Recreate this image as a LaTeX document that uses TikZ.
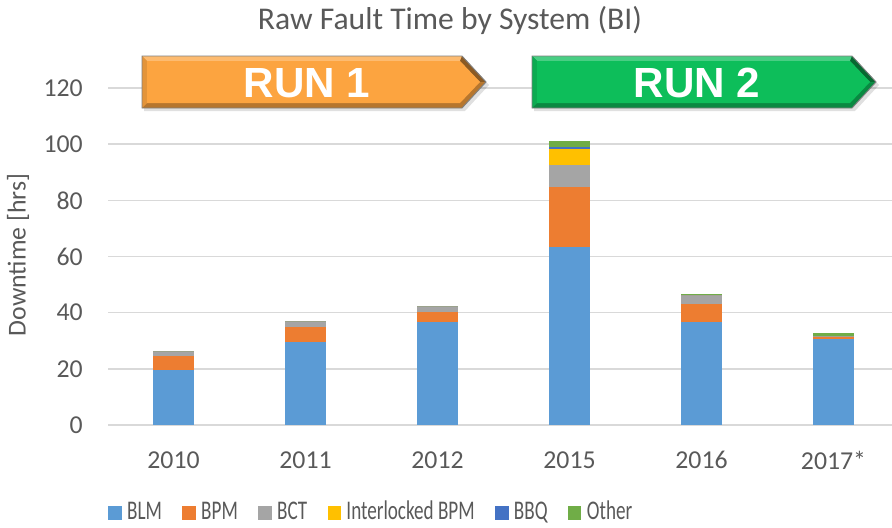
\documentclass[tikz,border=0pt]{standalone}
\usepackage{fontspec}
\setmainfont{Carlito}
\newfontfamily\runfont{Liberation Sans}
\usetikzlibrary{positioning}

\definecolor{axisgray}{HTML}{595959}
\definecolor{gridgray}{HTML}{D9D9D9}
\definecolor{blm}{HTML}{5B9BD5}
\definecolor{bpm}{HTML}{ED7D31}
\definecolor{bct}{HTML}{A5A5A5}
\definecolor{ilk}{HTML}{FFC000}
\definecolor{bbq}{HTML}{4472C4}
\definecolor{oth}{HTML}{70AD47}
\definecolor{runA}{HTML}{FCA440}
\definecolor{runB}{HTML}{0DBE5A}

\newcommand{\legname}[1]{\scalebox{0.71}[1]{#1}}

\begin{document}
\begin{tikzpicture}[x=0.03cm, y=-0.03cm,
    lbl/.style={text=axisgray, font=\fontsize{22}{26}\selectfont, inner sep=0pt},
    gridline/.style={draw=gridgray, line width=1.3pt},
    legsq/.style={fill=#1, minimum size=0.4cm, inner sep=0pt},
    legtxt/.style={lbl, font=\fontsize{23}{26}\selectfont, text height=14.5pt, text depth=0pt},
    runtxt/.style={text=white, font=\runfont\bfseries\fontsize{36}{40}\selectfont, inner sep=0pt}]
  \useasboundingbox (0,0) rectangle (892,527);

  % title and axis label
  \node[lbl, font=\fontsize{27}{30}\selectfont] (title) at (450,20) {Raw Fault Time by System (BI)};
  \node[lbl, rotate=90] (ylab) at (18,255) {Downtime [hrs]};

  % grid, ticks and bars in data units
  \begin{scope}[shift={(0,425)}, y=0.08424cm]
    \foreach \v in {0,20,...,120} {
      \draw[gridline] (108,\v) -- (892,\v);
      \node[lbl, anchor=east] (tick\v) at (83,\v) {\v};
    }
    \foreach \cx/\a/\b/\c/\d/\e/\f in {173.5/19.6/24.7/26.5/26.5/26.5/26.5,
        305.5/29.5/35.0/36.9/36.9/36.9/36.9,
        437.5/36.6/40.4/42.4/42.4/42.4/42.4,
        569.5/63.3/84.6/92.7/98.3/99.0/101.0,
        701.5/36.7/43.2/46.3/46.3/46.3/46.6,
        833.5/30.5/31.4/31.7/31.7/31.7/32.8} {
      \fill[blm] (\cx-20.5,0) rectangle (\cx+20.5,\a);
      \fill[bpm] (\cx-20.5,\a) rectangle (\cx+20.5,\b);
      \fill[bct] (\cx-20.5,\b) rectangle (\cx+20.5,\c);
      \fill[ilk] (\cx-20.5,\c) rectangle (\cx+20.5,\d);
      \fill[bbq] (\cx-20.5,\d) rectangle (\cx+20.5,\e);
      \fill[oth] (\cx-20.5,\e) rectangle (\cx+20.5,\f);
    }
  \end{scope}

  % years
  \foreach \cx/\yr [count=\i] in {173.5/2010, 305.5/2011, 437.5/2012,
      569.5/2015, 701.5/2016, 833.5/2017*}
    \node[lbl] (yr\i) at (\cx,460) {\yr};

  % run arrows
  \foreach \L/\col/\txt [count=\i] in {142/runA/RUN 1, 532/runB/RUN 2} {
    \fill[black, opacity=0.12] (\L+2,59) -- (\L+323,59) -- (\L+347,85) -- (\L+323,111) -- (\L+2,111) -- cycle;
    \fill[\col!72!black] (\L,56) -- (\L+320,56) -- (\L+344,82) -- (\L+320,108) -- (\L,108) -- cycle;
    \fill[\col!75!white] (\L,56) -- (\L+320,56) -- (\L+344,82) -- (\L+338,82) -- (\L+318,61) -- (\L+5,61) -- cycle;
    \fill[\col!55!black] (\L+320,56) -- (\L+344,82) -- (\L+338,82) -- (\L+318,61) -- cycle;
    \fill[\col!90!black] (\L,56) -- (\L+5,61) -- (\L+5,103) -- (\L,108) -- cycle;
    \fill[\col] (\L+5,61) -- (\L+318,61) -- (\L+338,82) -- (\L+318,103) -- (\L+5,103) -- cycle;
    \draw[gray, line width=0.8pt] (\L,56) -- (\L+320,56) -- (\L+344,82) -- (\L+320,108) -- (\L,108) -- cycle;
    \node[runtxt] (run\i) at (\L+165,83) {\txt};
  }

  % legend
  \node[legsq=blm] (sq1) at (115,513) {};
  \node[legtxt, right=0.15cm of sq1, yshift=0.06cm] (leg1) {\legname{BLM}};
  \node[legsq=bpm, right=0.6cm of leg1, yshift=-0.06cm] (sq2) {};
  \node[legtxt, right=0.15cm of sq2, yshift=0.06cm] (leg2) {\legname{BPM}};
  \node[legsq=bct, right=0.6cm of leg2, yshift=-0.06cm] (sq3) {};
  \node[legtxt, right=0.15cm of sq3, yshift=0.06cm] (leg3) {\legname{BCT}};
  \node[legsq=ilk, right=0.6cm of leg3, yshift=-0.06cm] (sq4) {};
  \node[legtxt, right=0.15cm of sq4, yshift=0.06cm] (leg4) {\legname{Interlocked BPM}};
  \node[legsq=bbq, right=0.6cm of leg4, yshift=-0.06cm] (sq5) {};
  \node[legtxt, right=0.15cm of sq5, yshift=0.06cm] (leg5) {\legname{BBQ}};
  \node[legsq=oth, right=0.6cm of leg5, yshift=-0.06cm] (sq6) {};
  \node[legtxt, right=0.15cm of sq6, yshift=0.06cm] (leg6) {\legname{Other}};
\end{tikzpicture}
\end{document}
